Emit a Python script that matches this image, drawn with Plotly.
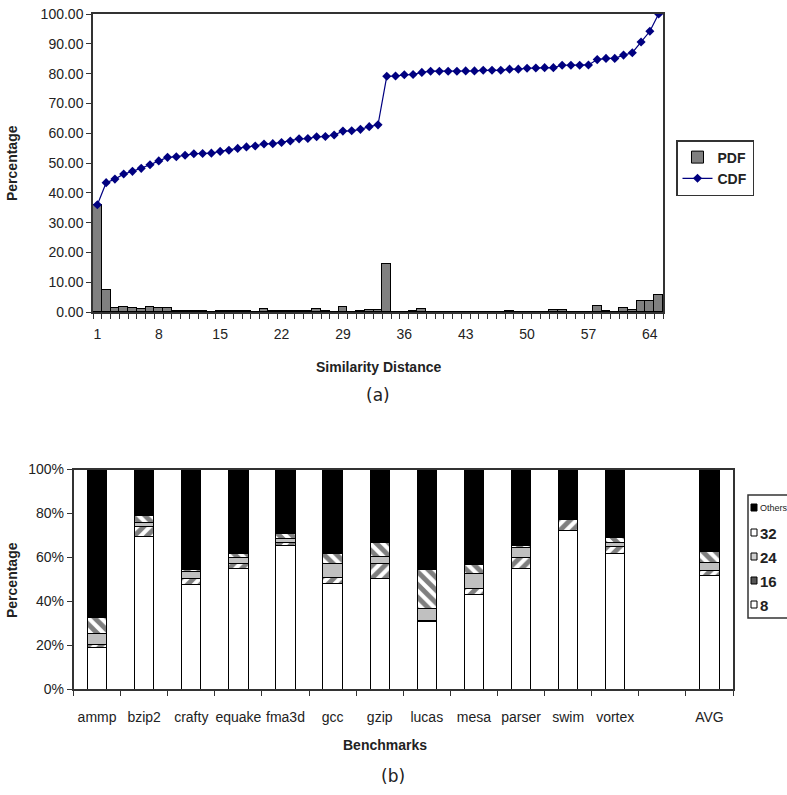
import plotly.graph_objects as go

# ---------------- data (a) ----------------
distance = list(range(1, 66))
pdf = [36.0, 7.4, 1.3, 1.7, 1.2, 0.9, 1.6, 1.3, 1.2, 0.4,
       0.4, 0.4, 0.4, 0.1, 0.5, 0.5, 0.5, 0.5, 0.1, 0.9,
       0.4, 0.4, 0.4, 0.4, 0.4, 0.9, 0.3, 0.1, 1.8, 0.1,
       0.4, 0.8, 0.8, 16.2, 0.1, 0.1, 0.5, 1.0, 0.0, 0.0,
       0.0, 0.0, 0.0, 0.0, 0.0, 0.0, 0.0, 0.5, 0.0, 0.0,
       0.0, 0.0, 0.6, 0.6, 0.0, 0.0, 0.0, 1.9, 0.5, 0.0,
       1.3, 0.6, 3.8, 3.6, 5.7]
cdf = [36.0, 43.4, 44.6, 46.3, 47.2, 48.2, 49.4, 50.7, 51.9, 52.1,
       52.6, 53.1, 53.2, 53.3, 53.9, 54.3, 54.9, 55.4, 55.7, 56.4,
       56.5, 56.9, 57.4, 58.1, 58.2, 58.8, 58.9, 59.4, 60.7, 60.8,
       61.3, 62.2, 62.8, 79.1, 79.2, 79.6, 79.7, 80.4, 80.8, 80.8,
       80.8, 80.8, 80.9, 80.9, 81.1, 81.1, 81.1, 81.5, 81.5, 81.8,
       81.9, 82.0, 82.0, 82.8, 82.8, 82.8, 82.9, 84.7, 85.1, 85.1,
       86.2, 87.0, 90.6, 94.2, 100.0]
dist_ticks = [1, 8, 15, 22, 29, 36, 43, 50, 57, 64]
pct_ticks_a = [0, 10, 20, 30, 40, 50, 60, 70, 80, 90, 100]

# ---------------- data (b) ----------------
bench_pos = [0, 1, 2, 3, 4, 5, 6, 7, 8, 9, 10, 11, 13]
bench_names = ["ammp", "bzip2", "crafty", "equake", "fma3d", "gcc", "gzip",
               "lucas", "mesa", "parser", "swim", "vortex", "AVG"]
s8 = [19.1, 69.4, 47.6, 54.7, 65.6, 48.2, 50.2, 30.8, 43.2, 55.0, 72.4, 61.8, 51.5]
s16 = [1.2, 4.8, 2.7, 2.6, 1.1, 2.6, 7.1, 0.3, 2.7, 5.0, 4.9, 3.0, 2.7]
s24 = [4.9, 1.5, 3.3, 2.4, 1.8, 6.5, 3.0, 5.6, 6.8, 4.4, 0.3, 2.0, 3.5]
s32 = [7.4, 3.4, 0.9, 2.0, 2.4, 4.4, 6.5, 17.8, 3.8, 1.2, 0.3, 2.1, 4.9]
others = [67.4, 20.9, 45.5, 38.3, 29.1, 38.3, 33.2, 45.5, 43.5, 34.4, 22.1, 31.1, 37.4]
pct_ticks_b = [0, 20, 40, 60, 80, 100]
legend_b = ["Others", "32", "24", "16", "8"]

FONT = "Liberation Sans"
AX = "#333333"
W, H = 787, 795

fig = go.Figure()

# (a)
fig.add_trace(go.Bar(x=distance, y=pdf, name="<b>PDF</b>", width=1,
                     marker=dict(color="#808080", line=dict(color="black", width=1)),
                     xaxis="x", yaxis="y", legend="legend"))
fig.add_trace(go.Scatter(x=distance, y=cdf, name="<b>CDF</b>", mode="lines+markers",
                         line=dict(color="#000080", width=1.2),
                         marker=dict(symbol="diamond", size=7, color="#000080"),
                         xaxis="x", yaxis="y", legend="legend"))

# (b)
def seg(vals, name, color, shape=None):
    m = dict(color=color, line=dict(color="black", width=1))
    if shape:
        m["pattern"] = dict(shape=shape, fgcolor="black", bgcolor="white", size=9, solidity=0.55)
    return go.Bar(x=bench_pos, y=vals, name=name, width=0.41, marker=m,
                  xaxis="x2", yaxis="y2", showlegend=False)

fig.add_trace(seg(s8, "8", "white"))
fig.add_trace(seg(s16, "16", "white", "/"))
fig.add_trace(seg(s24, "24", "#c0c0c0"))
fig.add_trace(seg(s32, "32", "white", "\\"))
fig.add_trace(seg(others, "Others", "black"))

axis_common = dict(showline=True, linecolor=AX, linewidth=1.5, mirror=True,
                   showgrid=False, zeroline=False,
                   tickfont=dict(family=FONT, size=14, color="#222"))

fig.update_layout(
    width=W, height=H, margin=dict(l=0, r=0, t=0, b=0, autoexpand=False),
    paper_bgcolor="white", plot_bgcolor="white", barmode="stack", bargap=0,
    font=dict(family=FONT, color="#222"),
    xaxis=dict(domain=[93/W, 663/W], anchor="y", range=[0.5, 65.5],
               tickmode="array", tickvals=dist_ticks, ticks="", ticklabelstandoff=8,
               minor=dict(ticks="outside", ticklen=5, tick0=0.5, dtick=1, tickcolor=AX),
               **axis_common),
    yaxis=dict(domain=[1-312/H, 1-14/H], anchor="x", range=[0, 100],
               tickmode="array", tickvals=pct_ticks_a,
               ticktext=[f"{v:.2f}" for v in pct_ticks_a],
               ticks="outside", ticklen=5, tickcolor=AX, **axis_common),
    xaxis2=dict(domain=[73.5/W, 733/W], anchor="y2", range=[-0.5, 13.5],
                tickmode="array", tickvals=bench_pos, ticktext=bench_names,
                ticks="", ticklabelstandoff=14,
                minor=dict(ticks="outside", ticklen=5, tick0=0.5, dtick=1, tickcolor=AX),
                **axis_common),
    yaxis2=dict(domain=[1-689/H, 1-469.5/H], anchor="x2", range=[0, 100],
                tickmode="array", tickvals=pct_ticks_b,
                ticktext=[f"{v}%" for v in pct_ticks_b],
                ticks="outside", ticklen=5, tickcolor=AX, **axis_common),
    legend=dict(x=676/W, y=1-140/H, xanchor="left", yanchor="top",
                bordercolor=AX, borderwidth=1.5, bgcolor="white",
                font=dict(family=FONT, size=14, color="#222"), traceorder="normal"),
    showlegend=True,
)

ann = [
    dict(text="<b>Percentage</b>", x=12/W, y=1-163/H, textangle=-90, size=14),
    dict(text="<b>Similarity Distance</b>", x=378/W, y=1-367/H, textangle=0, size=14),
    dict(text="(a)", x=378/W, y=1-395/H, textangle=0, size=17),
    dict(text="<b>Percentage</b>", x=12/W, y=1-580/H, textangle=-90, size=14),
    dict(text="<b>Benchmarks</b>", x=385/W, y=1-745/H, textangle=0, size=14),
    dict(text="(b)", x=393/W, y=1-776/H, textangle=0, size=17),
]
for a in ann:
    fig.add_annotation(text=a["text"], x=a["x"], y=a["y"], xref="paper", yref="paper",
                       showarrow=False, textangle=a["textangle"],
                       xanchor="center", yanchor="middle",
                       font=dict(family=FONT if a["size"] == 14 else "DejaVu Sans",
                                 size=a["size"], color="#222"))

# legend for (b), drawn as a compact box like the original
fig.add_shape(type="rect", xref="paper", yref="paper",
              x0=748/W, x1=800/W, y0=1-618/H, y1=1-495/H,
              line=dict(color=AX, width=1.5), fillcolor="white")
leg_y = [508, 533, 557, 581, 605]
leg_fill = ["black", "white", "#d0d0d0", "#555555", "white"]
for name, yy, fc in zip(legend_b, leg_y, leg_fill):
    fig.add_shape(type="rect", xref="paper", yref="paper",
                  x0=751/W, x1=757/W, y0=1-(yy+3)/H, y1=1-(yy-4)/H,
                  line=dict(color="black", width=1), fillcolor=fc)
    small = name == "Others"
    fig.add_annotation(text=name if small else f"<b>{name}</b>",
                       x=757.5/W, y=1-yy/H, xref="paper", yref="paper",
                       showarrow=False, xanchor="left", yanchor="middle",
                       font=dict(family="Liberation Sans Narrow, " + FONT,
                                 size=9 if small else 15, color="#222"))

fig.write_html("out.html")
